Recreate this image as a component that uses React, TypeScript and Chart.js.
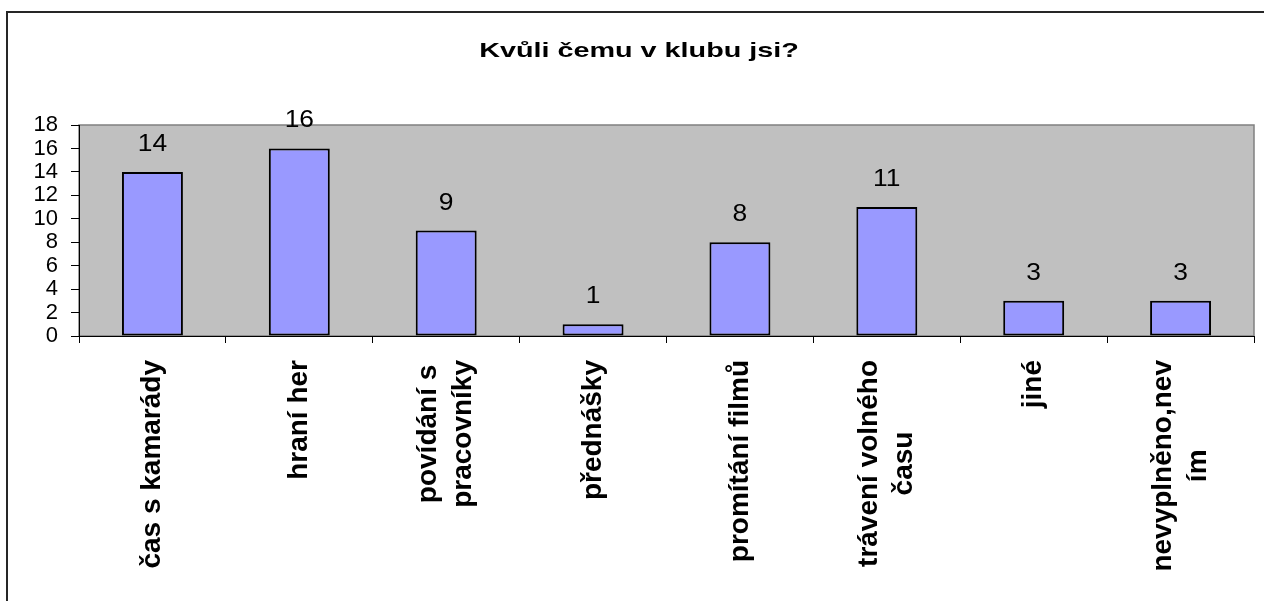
import React, { useEffect, useRef } from "react";
import { Chart, registerables } from "chart.js";

Chart.register(...registerables);

const titleText = "Kvůli čemu v klubu jsi?";
const categories: string[][] = [
  ["čas s kamarády"],
  ["hraní her"],
  ["povídání s", "pracovníky"],
  ["přednášky"],
  ["promítání filmů"],
  ["trávení volného", "času"],
  ["jiné"],
  ["nevyplněno,nev", "ím"],
];
const values: number[] = [14, 16, 9, 1, 8, 11, 3, 3];
const yTicks: number[] = [0, 2, 4, 6, 8, 10, 12, 14, 16, 18];

const FONT = "Arial, 'Liberation Sans', sans-serif";

const excelPlugin = {
  id: "excelLook",
  beforeDraw(chart: any) {
    const { ctx, chartArea: a } = chart;
    ctx.save();
    ctx.fillStyle = "#ffffff";
    ctx.fillRect(0, 0, chart.width, chart.height);
    ctx.fillStyle = "#C0C0C0";
    ctx.fillRect(a.left, a.top, a.right - a.left, a.bottom - a.top);
    ctx.strokeStyle = "#808080";
    ctx.lineWidth = 1.5;
    ctx.strokeRect(a.left, a.top, a.right - a.left, a.bottom - a.top);
    ctx.restore();
  },
  afterDraw(chart: any) {
    const { ctx, chartArea: a } = chart;
    const xs = chart.scales.x;
    ctx.save();
    ctx.fillStyle = "#000000";

    // title
    ctx.save();
    ctx.font = `bold 21px ${FONT}`;
    ctx.textAlign = "center";
    ctx.textBaseline = "alphabetic";
    ctx.translate(631, 44);
    ctx.scale(1.37, 1);
    ctx.fillText(titleText, 0, 0);
    ctx.restore();

    // value labels
    const meta = chart.getDatasetMeta(0);
    ctx.font = `24px ${FONT}`;
    ctx.textAlign = "center";
    ctx.textBaseline = "alphabetic";
    meta.data.forEach((bar: any, i: number) => {
      ctx.save();
      ctx.translate(bar.x, bar.y - 21);
      ctx.scale(1.1, 1);
      ctx.fillText(String(values[i]), 0, 0);
      ctx.restore();
    });

    // category labels (rotated, multi-line centered)
    ctx.font = `bold 28px ${FONT}`;
    ctx.textAlign = "center";
    ctx.textBaseline = "middle";
    categories.forEach((lines, i) => {
      const x = xs.getPixelForValue(i);
      let w = 0;
      lines.forEach((l) => {
        w = Math.max(w, ctx.measureText(l).width);
      });
      ctx.save();
      ctx.translate(x, a.bottom + 24 + w / 2);
      ctx.rotate(-Math.PI / 2);
      const n = lines.length;
      lines.forEach((l, j) => {
        ctx.fillText(l, 0, (j - (n - 1) / 2) * 35);
      });
      ctx.restore();
    });
    ctx.restore();
  },
};

export default function App() {
  const ref = useRef<HTMLCanvasElement | null>(null);
  useEffect(() => {
    if (!ref.current) return;
    const chart = new Chart(ref.current, {
      type: "bar",
      data: {
        labels: categories.map((c) => c.join(" ")),
        datasets: [
          {
            data: values,
            backgroundColor: "#9999FF",
            borderColor: "#000000",
            borderWidth: 2,
            borderSkipped: false,
            barPercentage: 0.415,
            categoryPercentage: 1,
          },
        ],
      },
      options: {
        responsive: false,
        animation: false,
        devicePixelRatio: 1,
        layout: { padding: { left: 0, top: 112, right: 24, bottom: 270 } },
        plugins: {
          legend: { display: false },
          title: { display: false },
          tooltip: { enabled: false },
        },
        scales: {
          x: {
            type: "category",
            grid: {
              offset: true,
              drawOnChartArea: false,
              drawTicks: true,
              tickLength: 7,
              color: "#000000",
            },
            border: { display: true, color: "#000000", width: 1 },
            ticks: { display: false },
            afterFit(scale: any) {
              scale.height = 7;
            },
          },
          y: {
            min: 0,
            max: 18,
            afterBuildTicks(scale: any) {
              scale.ticks = yTicks.map((v) => ({ value: v }));
            },
            grid: {
              drawOnChartArea: false,
              drawTicks: true,
              tickLength: 8,
              color: "#000000",
            },
            border: { display: true, color: "#000000", width: 1 },
            ticks: {
              autoSkip: false,
              color: "#000000",
              padding: 13,
              font: { family: FONT, size: 22, lineHeight: 1 },
            },
            afterFit(scale: any) {
              scale.width = 71;
            },
          },
        },
      },
      plugins: [excelPlugin],
    });
    return () => chart.destroy();
  }, []);

  return (
    <div style={{ position: "fixed", left: 0, top: 0, width: "100vw", height: "100vh", overflow: "hidden", background: "#fff" }}>
      <div
        style={{
          position: "absolute",
          left: 6,
          top: 11,
          width: 1270,
          height: 600,
          border: "2px solid #262626",
          background: "#fff",
        }}
      >
        <canvas ref={ref} width={1270} height={600} style={{ display: "block", width: 1270, height: 600 }} />
      </div>
    </div>
  );
}
